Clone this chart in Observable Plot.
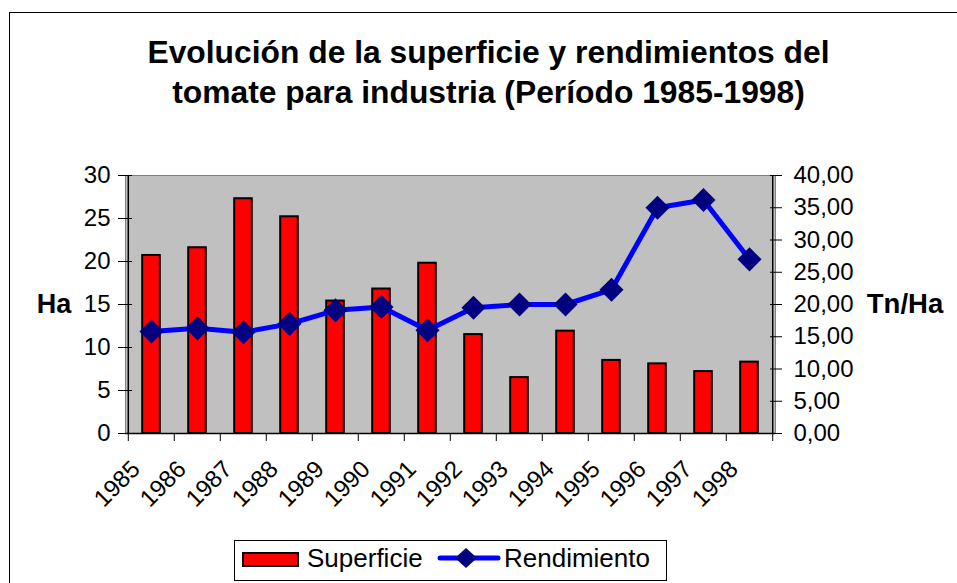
<!DOCTYPE html>
<html>
<head>
<meta charset="utf-8">
<script src="https://cdn.jsdelivr.net/npm/d3@7"></script>
<script src="https://cdn.jsdelivr.net/npm/@observablehq/plot@0.6"></script>
<style>
  html, body { margin: 0; padding: 0; background: #fff; }
  #wrap { position: relative; width: 957px; height: 583px; overflow: hidden; background: #fff; font-family: "Liberation Sans", Arial, sans-serif; }
  #wrap > svg { position: absolute; left: 0; top: 0; }
</style>
</head>
<body>
<div id="wrap"></div>
<script>
// ---- data ----
const years = ["1985","1986","1987","1988","1989","1990","1991","1992","1993","1994","1995","1996","1997","1998"];
const superficie = [20.7, 21.6, 27.3, 25.2, 15.4, 16.8, 19.8, 11.5, 6.5, 11.9, 8.5, 8.1, 7.2, 8.3];
const rendimiento = [15.8, 16.3, 15.7, 17.0, 19.1, 19.6, 16.0, 19.5, 20.0, 20.0, 22.3, 35.0, 36.2, 27.0];
const leftTicks = [0, 5, 10, 15, 20, 25, 30];
const rightTicks = [0, 5, 10, 15, 20, 25, 30, 35, 40];
const titleLines = ["Evolución de la superficie y rendimientos del", "tomate para industria (Período 1985-1998)"];
const leftLabel = "Ha";
const rightLabel = "Tn/Ha";
const seriesNames = ["Superficie", "Rendimiento"];

// ---- layout ----
const W = 957, H = 583;
const mL = 125, mR = 182, mT = 175, mB = 150;
const step = (W - mL - mR) / years.length;
const ratio = leftTicks[leftTicks.length - 1] / rightTicks[rightTicks.length - 1];

const rows = years.map((y, i) => ({year: y, sup: superficie[i], ren: rendimiento[i] * ratio}));
const fmtR = d => d3.format(".2f")(d / ratio).replace(".", ",");

const chart = Plot.plot({
  width: W, height: H,
  marginLeft: mL, marginRight: mR, marginTop: mT, marginBottom: mB,
  style: {fontFamily: "Liberation Sans, Arial, sans-serif", fontSize: "24px", color: "black", background: "transparent", overflow: "visible"},
  x: {type: "band", domain: years, padding: 0, axis: null, label: null},
  y: {domain: [0, 30], axis: null, label: null},
  marks: [
    Plot.frame({fill: "#C0C0C0", stroke: "#808080"}),
    Plot.barY(rows, {x: "year", y: "sup", fill: "#FF0000", stroke: "#000", strokeWidth: 2, insetLeft: 14.2, insetRight: 14.2}),
    Plot.ruleY([0], {stroke: "#000", strokeWidth: 1.5}),
    Plot.ruleX([years[0]], {dx: -step / 2, stroke: "#000", strokeWidth: 1.5}),
    Plot.ruleX([years[years.length - 1]], {dx: step / 2, stroke: "#000", strokeWidth: 1.5}),
    // x ticks at category boundaries
    Plot.axisX(years, {tickSize: 8, tickFormat: () => "", label: null, dx: -step / 2, stroke: "#000"}),
    Plot.axisX([years[years.length - 1]], {tickSize: 8, tickFormat: () => "", label: null, dx: step / 2, stroke: "#000"}),
    // rotated year labels
    Plot.text(years, {x: d => d, text: d => d, frameAnchor: "bottom", rotate: -45, textAnchor: "end", lineAnchor: "bottom", dx: -10, dy: 37, fontSize: 24, fill: "#000"}),
    // left axis
    Plot.axisY(leftTicks, {anchor: "left", tickSize: 14, dx: 7, tickPadding: 8, fontSize: 24, label: null, stroke: "#000"}),
    // right axis
    Plot.axisY(rightTicks.map(v => v * ratio), {anchor: "right", tickSize: 12, dx: -6, tickPadding: 12, fontSize: 24, label: null, tickFormat: fmtR, stroke: "#000"}),
    // line series
    Plot.line(rows, {x: "year", y: "ren", stroke: "#0000FF", strokeWidth: 5, strokeLinejoin: "round"}),
    Plot.dot(rows, {x: "year", y: "ren", symbol: "square", rotate: 45, r: 9.6, fill: "#000080", stroke: "none"}),
    // axis titles
    Plot.text([leftLabel], {text: d => d, frameAnchor: "left", dx: -71.5, textAnchor: "middle", fontSize: 27, fontWeight: "bold", fill: "#000"}),
    Plot.text([rightLabel], {text: d => d, frameAnchor: "right", dx: 129.5, textAnchor: "middle", fontSize: 27.5, fontWeight: "bold", fill: "#000"})
  ]
});

const wrap = document.getElementById("wrap");
wrap.appendChild(chart);

// ---- overlay: border, title, legend ----
const ov = d3.select(wrap).append("svg").attr("width", W).attr("height", H)
  .style("font-family", "Liberation Sans, Arial, sans-serif");
ov.append("rect").attr("x", 9.5).attr("y", 12.5).attr("width", W).attr("height", H)
  .attr("fill", "none").attr("stroke", "#000").attr("stroke-width", 1);

ov.selectAll("text.title").data(titleLines).join("text")
  .attr("class", "title")
  .attr("x", 488.5).attr("y", (d, i) => 62.7 + i * 40)
  .attr("text-anchor", "middle").attr("font-size", 31.8).attr("font-weight", "bold")
  .attr("fill", "#000").text(d => d);

const lg = ov.append("g");
lg.append("rect").attr("x", 234.5).attr("y", 540.5).attr("width", 432).attr("height", 40)
  .attr("fill", "#fff").attr("stroke", "#000").attr("stroke-width", 1);
lg.append("rect").attr("x", 243).attr("y", 553).attr("width", 55).attr("height", 13)
  .attr("fill", "#FF0000").attr("stroke", "#000").attr("stroke-width", 2);
lg.append("text").attr("x", 307).attr("y", 567).attr("font-size", 26).attr("fill", "#000").text(seriesNames[0]);
lg.append("line").attr("x1", 440).attr("x2", 498).attr("y1", 558).attr("y2", 558)
  .attr("stroke", "#0000FF").attr("stroke-width", 5).attr("stroke-linecap", "round");
lg.append("path").attr("d", "M466,548 L477,558 L466,568 L455,558 Z").attr("fill", "#000080");
lg.append("text").attr("x", 504).attr("y", 567).attr("font-size", 26).attr("fill", "#000").text(seriesNames[1]);
</script>
</body>
</html>
